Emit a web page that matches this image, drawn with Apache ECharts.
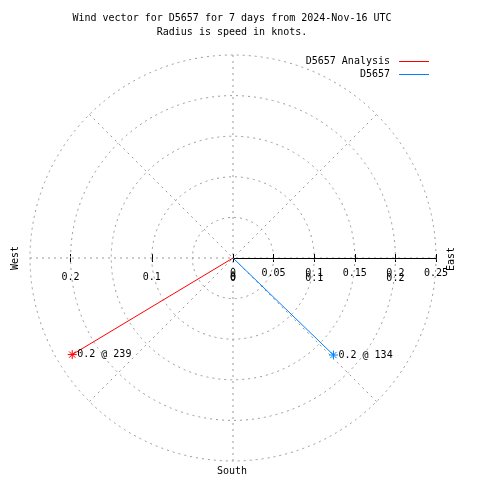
<!DOCTYPE html>
<html>
<head>
<meta charset="utf-8">
<script src="https://cdn.jsdelivr.net/npm/echarts@6/dist/echarts.min.js"></script>
<style>html,body{margin:0;padding:0;background:#fff;}#c{width:480px;height:480px;}</style>
</head>
<body>
<div id="c"></div>
<script>
// ---- data ----
const seriesNames = ['D5657 Analysis', 'D5657'];
const directions = [239, 134];      // degrees (compass bearing)
const speeds = [0.231, 0.172];       // knots
const seriesColors = ['#ff0000', '#0080ff'];
const radiusMax = 0.25;
const radiusStep = 0.05;
const secondaryMax = 0.2;
const secondaryStep = 0.1;
const compassLabels = ['West', 'East', 'South'];
const titleLines = ['Wind vector for D5657 for 7 days from 2024-Nov-16 UTC', 'Radius is speed in knots.'];

const FONT = "'DejaVu Sans Mono', monospace";
const CX = 233, CY = 258, R = 203;
const R2 = R * secondaryMax / radiusMax;
const grid = '#9a9a9a';
const dash = [2, 4];

const chart = echarts.init(document.getElementById('c'), null, {renderer: 'canvas'});

function hiddenAngle(i, start) {
  return {polarIndex: i, type: 'value', min: 90, max: 450, interval: 45, startAngle: start, clockwise: true,
    axisLine: {show: false}, axisTick: {show: false}, axisLabel: {show: false}, splitLine: {show: false}};
}

const polars = [
  {center: [CX, CY], radius: R},
  {center: [CX, CY], radius: R},
  {center: [CX, CY], radius: R2},
  {center: [CX, CY], radius: R2},
  {center: [CX, CY], radius: R2}
];
const angleAxes = [
  {polarIndex: 0, type: 'value', min: 90, max: 450, interval: 45, startAngle: 0, clockwise: true,
    axisLine: {show: false}, axisTick: {show: false}, axisLabel: {show: false},
    splitLine: {show: true, lineStyle: {color: grid, width: 1, type: dash}}},
  hiddenAngle(1, 0),
  hiddenAngle(2, 180),
  hiddenAngle(3, 180),
  hiddenAngle(4, 0)
];
const radiusAxes = [
  {polarIndex: 0, type: 'value', min: 0, max: radiusMax, interval: radiusStep,
    axisLine: {show: true, lineStyle: {color: '#000', width: 1}},
    axisTick: {show: true, length: 4, lineStyle: {color: '#000'}},
    axisLabel: {show: true, margin: -20, color: '#000', fontFamily: FONT, fontSize: 10},
    splitLine: {show: true, lineStyle: {color: grid, width: 1, type: dash}}, z: 5},
  {polarIndex: 1, type: 'value', min: 0, max: radiusMax, interval: radiusStep,
    axisLine: {show: false}, axisTick: {show: true, length: -4, lineStyle: {color: '#000'}},
    axisLabel: {show: false}, splitLine: {show: false}},
  {polarIndex: 2, type: 'value', min: 0, max: secondaryMax, interval: secondaryStep,
    axisLine: {show: false}, axisTick: {show: true, length: 4, lineStyle: {color: '#000'}},
    axisLabel: {show: true, margin: 14, color: '#000', fontFamily: FONT, fontSize: 10},
    splitLine: {show: false}},
  {polarIndex: 3, type: 'value', min: 0, max: secondaryMax, interval: secondaryStep,
    axisLine: {show: false}, axisTick: {show: true, length: -4, lineStyle: {color: '#000'}},
    axisLabel: {show: false}, splitLine: {show: false}},
  {polarIndex: 4, type: 'value', min: 0, max: secondaryMax, interval: secondaryStep,
    axisLine: {show: false}, axisTick: {show: false},
    axisLabel: {show: true, margin: -25, color: '#000', fontFamily: FONT, fontSize: 10},
    splitLine: {show: false}}
];

const asterisk = 'path://M5,0L5,10M0,5L10,5M1.5,1.5L8.5,8.5M1.5,8.5L8.5,1.5';

const series = seriesNames.map((name, i) => ({
  name: name,
  type: 'line',
  coordinateSystem: 'polar',
  polarIndex: 0,
  color: seriesColors[i],
  lineStyle: {width: 1, color: seriesColors[i]},
  symbol: asterisk,
  symbolSize: 9,
  itemStyle: {color: 'none', borderColor: seriesColors[i], borderWidth: 1},
  animation: false,
  z: 10,
  data: [
    {value: [0, directions[i]], symbol: 'none', label: {show: false}},
    {value: [speeds[i], directions[i]],
      label: {show: true, position: 'right', distance: -2, color: '#000', fontFamily: FONT, fontSize: 10,
        formatter: () => speeds[i].toFixed(1) + ' @ ' + directions[i]}}
  ]
}));

const option = {
  backgroundColor: '#fff',
  animation: false,
  title: {
    text: titleLines.join('\n'),
    left: 232, top: 11, padding: 0, textAlign: 'center',
    textStyle: {fontFamily: FONT, fontSize: 10, fontWeight: 'normal', color: '#000', lineHeight: 14}
  },
  legend: seriesNames.map((n, i) => ({
    data: [n], right: 51, top: i === 0 ? 56.5 : 69.5, padding: 0, align: 'right', orient: 'vertical',
    icon: 'rect', itemWidth: 30, itemHeight: 1,
    itemStyle: {borderWidth: 0, color: seriesColors[i]},
    textStyle: {fontFamily: FONT, fontSize: 10, color: '#000', padding: [0, 4, 0, 0]}
  })),
  polar: polars,
  angleAxis: angleAxes,
  radiusAxis: radiusAxes,
  series: series,
  graphic: [
    {type: 'text', x: 15, y: 258, rotation: Math.PI / 2,
      style: {text: compassLabels[0], font: '10px ' + FONT, fill: '#000', textAlign: 'center', textVerticalAlign: 'middle'}},
    {type: 'text', x: 451, y: 259, rotation: Math.PI / 2,
      style: {text: compassLabels[1], font: '10px ' + FONT, fill: '#000', textAlign: 'center', textVerticalAlign: 'middle'}},
    {type: 'text', x: 232, y: 471,
      style: {text: compassLabels[2], font: '10px ' + FONT, fill: '#000', textAlign: 'center', textVerticalAlign: 'middle'}}
  ]
};
chart.setOption(option);
</script>
</body>
</html>
